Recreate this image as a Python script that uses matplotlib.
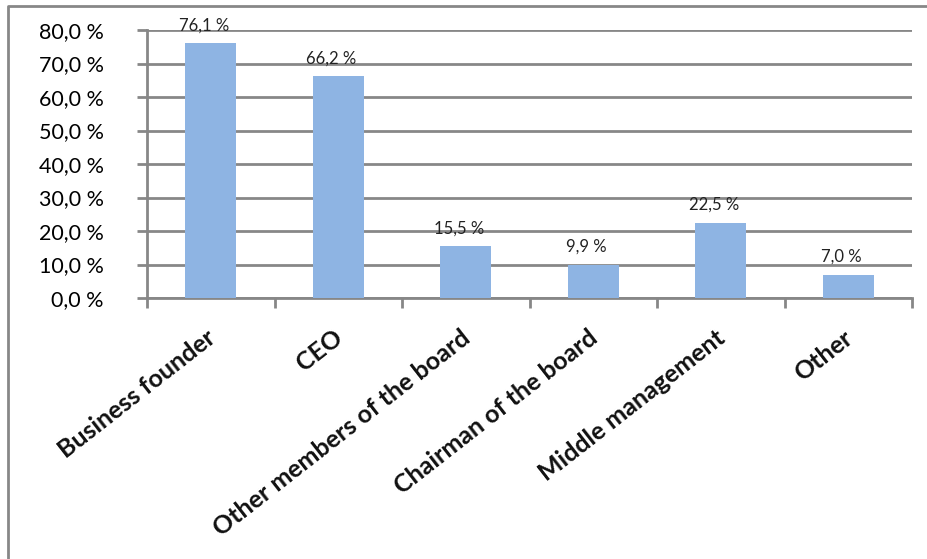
import matplotlib.pyplot as plt
from matplotlib.lines import Line2D

categories = ["Business founder", "CEO", "Other members of the board",
              "Chairman of the board", "Middle management", "Other"]
values = [76.1, 66.2, 15.5, 9.9, 22.5, 7.0]
yticks = [0, 10, 20, 30, 40, 50, 60, 70, 80]

plt.rcParams['font.family'] = ['Lato', 'DejaVu Sans']
grey = "#878787"

def pct(v):
    return ("%.1f %%" % v).replace(".", ",")

fig = plt.figure(figsize=(9.28, 5.59), dpi=100)
ax = fig.add_axes([147/928, 1-298/559, (912-147)/928, (298-30)/559])

x = list(range(len(categories)))
ax.bar(x, values, width=0.4, color="#8EB4E3", zorder=3)
for xi, v in zip(x, values):
    ax.annotate(pct(v), (xi, v), xytext=(-5, 7),
                textcoords="offset points", ha="center", va="bottom",
                fontsize=12, color="#222222", zorder=4)

ax.set_xlim(-0.5, len(categories) - 0.5)
ax.set_ylim(0, 80)
ax.set_yticks(yticks)
ax.set_yticklabels([pct(t) for t in yticks], fontsize=15.5)
ax.yaxis.grid(True, color=grey, linewidth=2, zorder=0)
ax.tick_params(axis="y", length=7, width=2, color=grey, pad=24)

# category ticks sit at the borders between bars
ax.set_xticks([i - 0.5 for i in range(len(categories) + 1)])
ax.set_xticklabels([])
ax.tick_params(axis="x", length=7, width=2, color=grey)

# rotated category labels (source picture is stretched sideways, so ~38 deg)
for xi, name in zip(x, categories):
    ax.annotate(name, (xi, 0), xycoords=("data", "axes fraction"),
                xytext=(-4, -20), textcoords="offset points",
                rotation=38, rotation_mode="anchor", ha="right", va="top",
                fontsize=18, fontweight="bold", color="#111111",
                annotation_clip=False)

for s in ["top", "right"]:
    ax.spines[s].set_visible(False)
for s in ["left", "bottom"]:
    ax.spines[s].set_color(grey)
    ax.spines[s].set_linewidth(2)

# outer chart frame (cropped at right and bottom)
fig.add_artist(Line2D([8/928, 8/928, 1], [0, 1-6/559, 1-6/559],
                      transform=fig.transFigure, color=grey, linewidth=2))

fig.savefig("out.png", dpi=100)
